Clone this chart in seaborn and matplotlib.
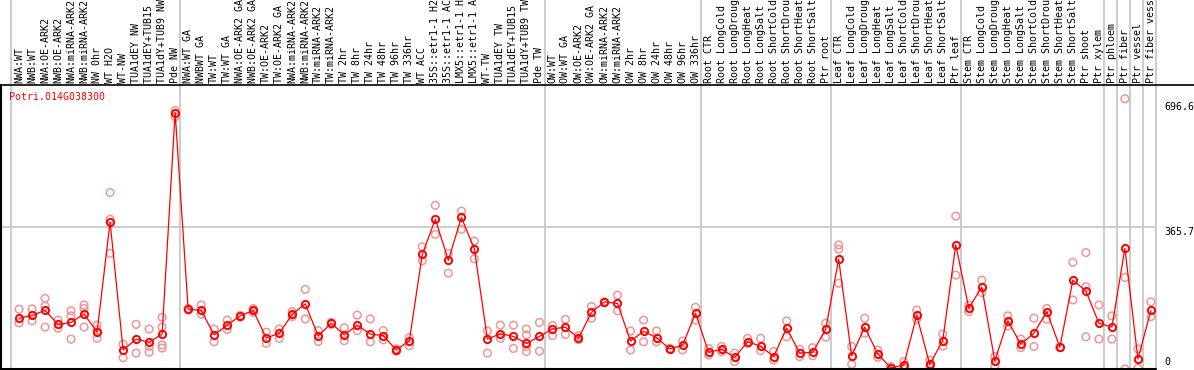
import numpy as np
import pandas as pd
import matplotlib
matplotlib.use("Agg")
import matplotlib.pyplot as plt
import matplotlib.transforms as mtransforms
from matplotlib.lines import Line2D
import seaborn as sns

# sample names (truncated as they show on the chart)
samples = [
    "NWA:WT", "NWB:WT", "NWA:OE-ARK2", "NWB:OE-ARK2", "NWA:miRNA-ARK2", "NWB:miRNA-ARK2",
    "NW 0hr", "WT H2O", "WT-NW", "TUA1dEY NW", "TUA1dEY+TUB15 ", "TUA1dY+TUB9 NW", "Pde NW",
    "NWA:WT GA", "NWBWT GA", "TW:WT", "TW:WT GA", "NWA:OE-ARK2 GA", "NWB:OE-ARK2 GA",
    "TW:OE-ARK2", "TW:OE-ARK2 GA", "NWA:miRNA-ARK2", "NWB:miRNA-ARK2", "TW:miRNA-ARK2",
    "TW:miRNA-ARK2", "TW 2hr", "TW 8hr", "TW 24hr", "TW 48hr", "TW 96hr", "TW 336hr",
    "WT ACC", "35S::etr1-1 H2", "35S::etr1-1 AC", "LMX5::etr1-1 H", "LMX5::etr1-1 A",
    "WT-TW", "TUA1dEY TW", "TUA1dEY+TUB15 ", "TUA1dY+TUB9 TW", "Pde TW",
    "OW:WT", "OW:WT GA", "OW:OE-ARK2", "OW:OE-ARK2 GA", "OW:miRNA-ARK2", "OW:miRNA-ARK2",
    "OW 2hr", "OW 8hr", "OW 24hr", "OW 48hr", "OW 96hr", "OW 336hr",
    "Root CTR", "Root LongCold", "Root LongDroug", "Root LongHeat", "Root LongSalt",
    "Root ShortCold", "Root ShortDrou", "Root ShortHeat", "Root ShortSalt", "Ptr root",
    "Leaf CTR", "Leaf LongCold", "Leaf LongDroug", "Leaf LongHeat", "Leaf LongSalt",
    "Leaf ShortCold", "Leaf ShortDrou", "Leaf ShortHeat", "Leaf ShortSalt", "Ptr leaf",
    "Stem CTR", "Stem LongCold", "Stem LongDroug", "Stem LongHeat", "Stem LongSalt",
    "Stem ShortCold", "Stem ShortDrou", "Stem ShortHeat", "Stem ShortSalt", "Ptr shoot",
    "Ptr xylem", "Ptr phloem", "Ptr fiber", "Ptr vessel", "Ptr fiber vess",
]

# mean expression per sample
means = [
    131, 138, 151, 115, 120, 142, 95, 379, 49, 77, 69, 90, 661,
    154, 151, 88, 113, 137, 151, 80, 92, 141, 168, 85, 118, 88, 113, 90, 86, 49, 73,
    296, 386, 280, 391, 309, 77, 91, 84, 66, 84,
    103, 108, 79, 146, 173, 169, 72, 97, 81, 52, 61, 144,
    43, 51, 30, 70, 59, 32, 106, 41, 43, 102,
    283, 34, 108, 39, 3, 10, 138, 12, 73, 320,
    157, 211, 21, 124, 64, 92, 148, 56, 229, 201, 118,
    108, 311, 26, 151,
]

# replicate values per sample
reps = [
    [154, 119], [155, 124], [182, 162, 108], [126, 105], [150, 137, 77],
    [165, 156, 108], [113, 101, 79], [455, 386, 298], [64, 29], [115, 41],
    [103, 58, 43], [133, 108, 62, 54], [666, 650],
    [152, 156], [165, 141], [103, 70], [126, 102], [138, 134], [156, 146],
    [95, 66], [103, 79], [148, 135], [205, 129], [99, 71], [120, 115],
    [106, 73], [139, 99], [129, 70], [99, 75], [52, 46], [81, 60],
    [315, 279], [422, 347], [298, 247], [407, 360], [330, 284],
    [98, 41], [113, 79], [113, 53], [103, 88, 58, 45], [120, 46],
    [112, 86], [128, 89], [86, 76], [161, 131], [173, 171], [190, 150],
    [98, 49], [126, 70], [98, 70], [52, 53], [72, 49], [159, 126],
    [53, 36], [58, 45], [41, 19], [79, 66], [79, 47], [45, 23],
    [124, 83], [51, 32], [55, 34], [118, 82],
    [320, 309, 221], [58, 12], [131, 92], [49, 30], [6, 2], [19, 4],
    [152, 128], [23, 3], [90, 59], [394, 242],
    [148, 165], [229, 197], [32, 8], [137, 111], [77, 55], [131, 58],
    [156, 128], [56, 55], [275, 178], [300, 212, 83], [165, 77],
    [137, 77], [696.6, 236, 0], [52, 2], [173, 135],
]

# first index of each sample group (separator lines)
group_starts = [0, 13, 41, 53, 63, 73, 84, 85, 86, 87, 88]
gene = "Potri.014G038300"
grid_vals = [365.7]
axis_labels = ["696.6", "365.7", "0"]

mono = "DejaVu Sans Mono"
fs = 7.2
line_red = "#ff0000"
rep_red = "#f09696"
grid_gray = "#c4c4c4"

W, H = 1194, 370
fig = plt.figure(figsize=(W / 100, H / 100), dpi=100)
sns.set_style("white")

# plot area in pixels: x 1..1156, y 85..369
ax = fig.add_axes([1 / W, 1 / H, 1155 / W, 284 / H])
x = np.arange(len(samples))
ax.set_xlim(-1.384, 87.39)
ax.set_ylim(0, 732)

rep_df = pd.DataFrame(
    [(i, v) for i, vals in enumerate(reps) for v in vals], columns=["idx", "value"]
)
mean_df = pd.DataFrame({"idx": x, "value": means})

# group separators and grid
for g in group_starts:
    ax.axvline(g - 0.6, ymin=0, ymax=369 / 284, color=grid_gray, lw=1.2,
               clip_on=False, zorder=0)
for gv in grid_vals:
    ax.axhline(gv, color=grid_gray, lw=1.2, zorder=0)

sns.scatterplot(data=rep_df, x="idx", y="value", ax=ax, marker="o", s=30,
                facecolors="none", edgecolor=rep_red, linewidth=1.1, zorder=2)
sns.lineplot(data=mean_df, x="idx", y="value", ax=ax, estimator=None, sort=False,
             color=line_red, lw=0.9, marker="o", markersize=5.2,
             markerfacecolor="none", markeredgecolor=line_red, markeredgewidth=1.4,
             zorder=3)

for s in ax.spines.values():
    s.set_visible(False)
ax.set_xticks([])
ax.set_yticks([])
ax.set_xlabel("")
ax.set_ylabel("")

# frame lines
fig.add_artist(Line2D([0, 1], [1 - 85 / H] * 2, color="black", lw=1.2))
fig.add_artist(Line2D([0.5 / W] * 2, [1 / H, 1 - 85 / H], color="black", lw=1.5))
fig.add_artist(Line2D([0, 1156 / W], [1.2 / H] * 2, color="black", lw=1.5))

# rotated sample labels above the plot
trans = mtransforms.blended_transform_factory(ax.transData, fig.transFigure)
for i, name in enumerate(samples):
    ax.text(i, 1 - 83 / H, name, rotation=90, ha="center", va="bottom",
            family=mono, fontsize=fs, color="black", transform=trans, clip_on=False)

fig.text(9 / W, 1 - 97 / H, gene, color=line_red, family=mono, fontsize=fs,
         ha="left", va="center")
for lab, yc in zip(axis_labels, [107, 232, 362]):
    fig.text(1164 / W, 1 - yc / H, lab, family=mono, fontsize=fs,
             ha="left", va="center", color="black")

fig.savefig("out.png", dpi=100, facecolor="white")
